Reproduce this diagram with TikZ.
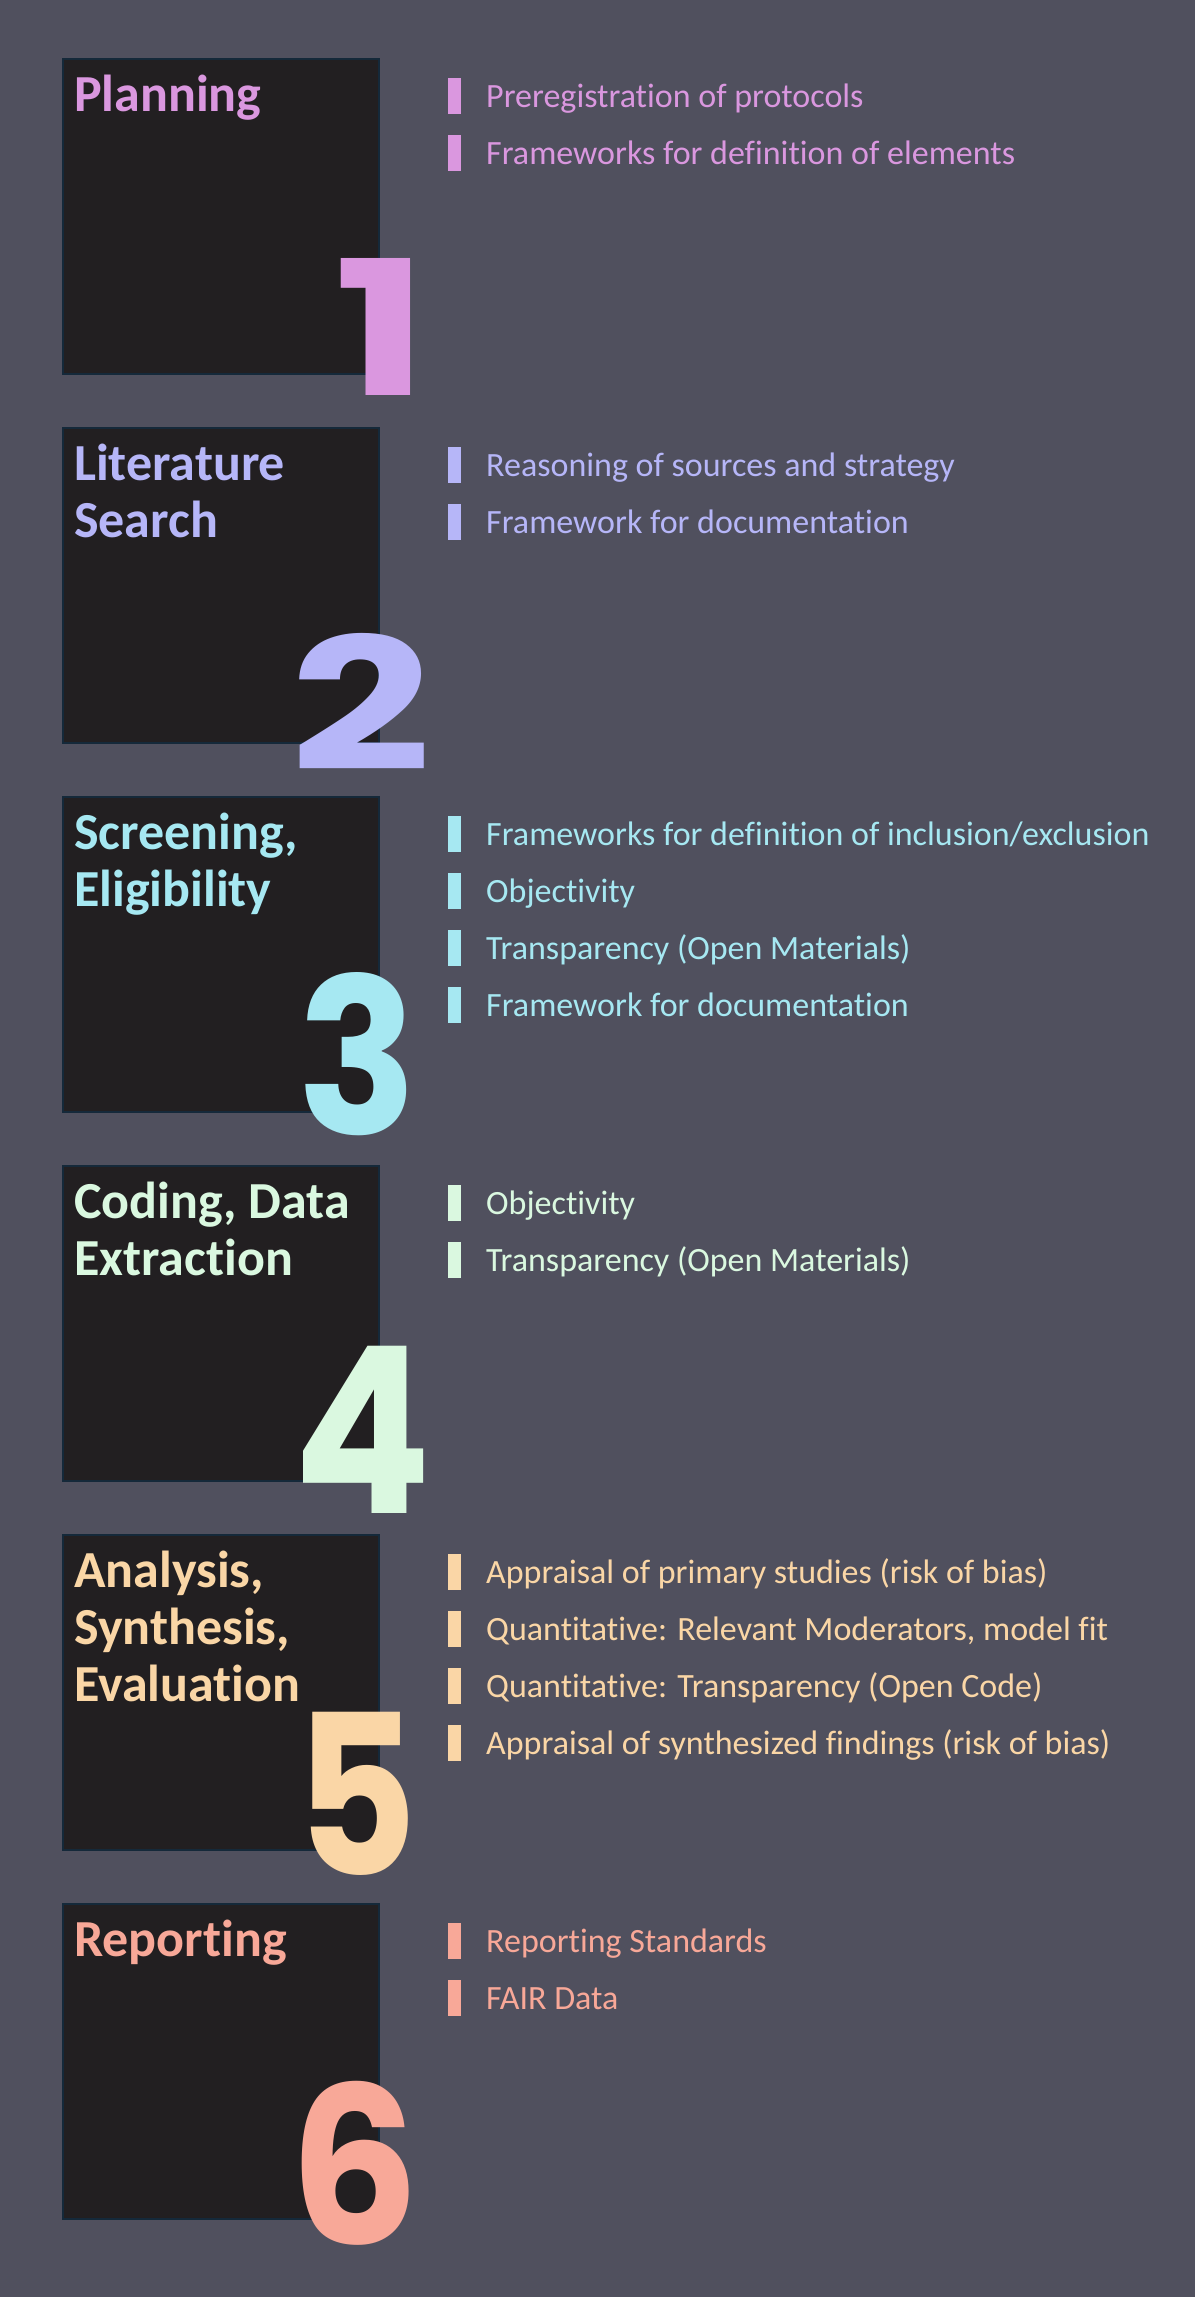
\documentclass[tikz,border=0pt]{standalone}
\usepackage{fontspec}
\usepackage{graphicx}
\setmainfont{Carlito}[Ligatures={TeX,NoCommon}]
\newfontfamily\digitfont{Poppins}[Numbers=Proportional]
\definecolor{bgc}{HTML}{50505E}
\definecolor{boxfill}{HTML}{221F21}
\definecolor{boxedge}{HTML}{15293A}
\definecolor{cA}{HTML}{DA97DF}
\definecolor{cB}{HTML}{B6B6F8}
\definecolor{cC}{HTML}{A6E8F2}
\definecolor{cD}{HTML}{DAF8E0}
\definecolor{cE}{HTML}{FAD6A6}
\definecolor{cF}{HTML}{F8A898}
\tikzset{
  phasebox/.style={draw=boxedge, line width=2pt, fill=boxfill, minimum width=316pt, minimum height=315pt, inner sep=0pt, anchor=north west},
  phasetitle/.style={anchor=base west, inner sep=0pt, font=\fontsize{52}{57}\selectfont\bfseries},
  bignum/.style={inner sep=0pt, font=\digitfont\bfseries},
  itembar/.style={fill, minimum width=13pt, minimum height=36pt, inner sep=0pt, anchor=north west},
  itemtext/.style={anchor=base west, inner sep=0pt, font=\fontsize{34}{40}\selectfont}
}
\begin{document}
\begin{tikzpicture}[x=1pt,y=-1pt]
\fill[bgc] (0,0) rectangle (1195,2297);
\useasboundingbox (0,0) rectangle (1195,2297);
% ---------- Phase 1
\node[phasebox] (b1) at (62,58) {};
\node[phasetitle, text=cA] (t1) at (74,111) {\parbox[t]{300pt}{Planning}};
\node[bignum, text=cA] (n1) at (382,326.5) {\resizebox{94pt}{137pt}{1}};
\node[itembar, fill=cA] (r1a) at (448,78) {};
\node[itemtext, text=cA] (i1a) at (486,107) {Preregistration of protocols};
\node[itembar, fill=cA] (r1b) at (448,135) {};
\node[itemtext, text=cA] (i1b) at (486,164) {Frameworks for definition of elements};
% ---------- Phase 2
\node[phasebox] (b2) at (62,427) {};
\node[phasetitle, text=cB] (t2) at (74,480) {\parbox[t]{300pt}{Literature\\Search}};
\node[bignum, text=cB] (n2) at (361,701.5) {\resizebox{141pt}{137pt}{2}};
\node[itembar, fill=cB] (r2a) at (448,447) {};
\node[itemtext, text=cB] (i2a) at (486,476) {Reasoning of sources and strategy};
\node[itembar, fill=cB] (r2b) at (448,504) {};
\node[itemtext, text=cB] (i2b) at (486,533) {Framework for documentation};
% ---------- Phase 3
\node[phasebox] (b3) at (62,796) {};
\node[phasetitle, text=cC] (t3) at (74,849) {\parbox[t]{300pt}{Screening,\\Eligibility}};
\node[bignum, text=cC] (n3) at (358,1054) {\resizebox{120pt}{162pt}{3}};
\node[itembar, fill=cC] (r3a) at (448,816) {};
\node[itemtext, text=cC] (i3a) at (486,845) {Frameworks for definition of inclusion/exclusion};
\node[itembar, fill=cC] (r3b) at (448,873) {};
\node[itemtext, text=cC] (i3b) at (486,902) {Objectivity};
\node[itembar, fill=cC] (r3c) at (448,930) {};
\node[itemtext, text=cC] (i3c) at (486,959) {Transparency (Open Materials)};
\node[itembar, fill=cC] (r3d) at (448,987) {};
\node[itemtext, text=cC] (i3d) at (486,1016) {Framework for documentation};
% ---------- Phase 4
\node[phasebox] (b4) at (62,1165) {};
\node[phasetitle, text=cD] (t4) at (74,1218) {\parbox[t]{300pt}{Coding, Data\\Extraction}};
\node[bignum, text=cD] (n4) at (363,1429.5) {\resizebox{138pt}{167pt}{4}};
\node[itembar, fill=cD] (r4a) at (448,1185) {};
\node[itemtext, text=cD] (i4a) at (486,1214) {Objectivity};
\node[itembar, fill=cD] (r4b) at (448,1242) {};
\node[itemtext, text=cD] (i4b) at (486,1271) {Transparency (Open Materials)};
% ---------- Phase 5
\node[phasebox] (b5) at (62,1534) {};
\node[phasetitle, text=cE] (t5) at (74,1587) {\parbox[t]{300pt}{Analysis,\\Synthesis,\\Evaluation}};
\node[bignum, text=cE] (n5) at (356,1793.5) {\resizebox{122pt}{163pt}{5}};
\node[itembar, fill=cE] (r5a) at (448,1554) {};
\node[itemtext, text=cE] (i5a) at (486,1583) {Appraisal of primary studies (risk of bias)};
\node[itembar, fill=cE] (r5b) at (448,1611) {};
\node[itemtext, text=cE] (i5b) at (486,1640) {Quantitative: Relevant Moderators, model fit};
\node[itembar, fill=cE] (r5c) at (448,1668) {};
\node[itemtext, text=cE] (i5c) at (486,1697) {Quantitative: Transparency (Open Code)};
\node[itembar, fill=cE] (r5d) at (448,1725) {};
\node[itemtext, text=cE] (i5d) at (486,1754) {Appraisal of synthesized findings (risk of bias)};
% ---------- Phase 6
\node[phasebox] (b6) at (62,1903) {};
\node[phasetitle, text=cF] (t6) at (74,1956) {\parbox[t]{300pt}{Reporting}};
\node[bignum, text=cF] (n6) at (355,2163.5) {\resizebox{130pt}{163pt}{6}};
\node[itembar, fill=cF] (r6a) at (448,1923) {};
\node[itemtext, text=cF] (i6a) at (486,1952) {Reporting Standards};
\node[itembar, fill=cF] (r6b) at (448,1980) {};
\node[itemtext, text=cF] (i6b) at (486,2009) {FAIR Data};
\end{tikzpicture}
\end{document}
